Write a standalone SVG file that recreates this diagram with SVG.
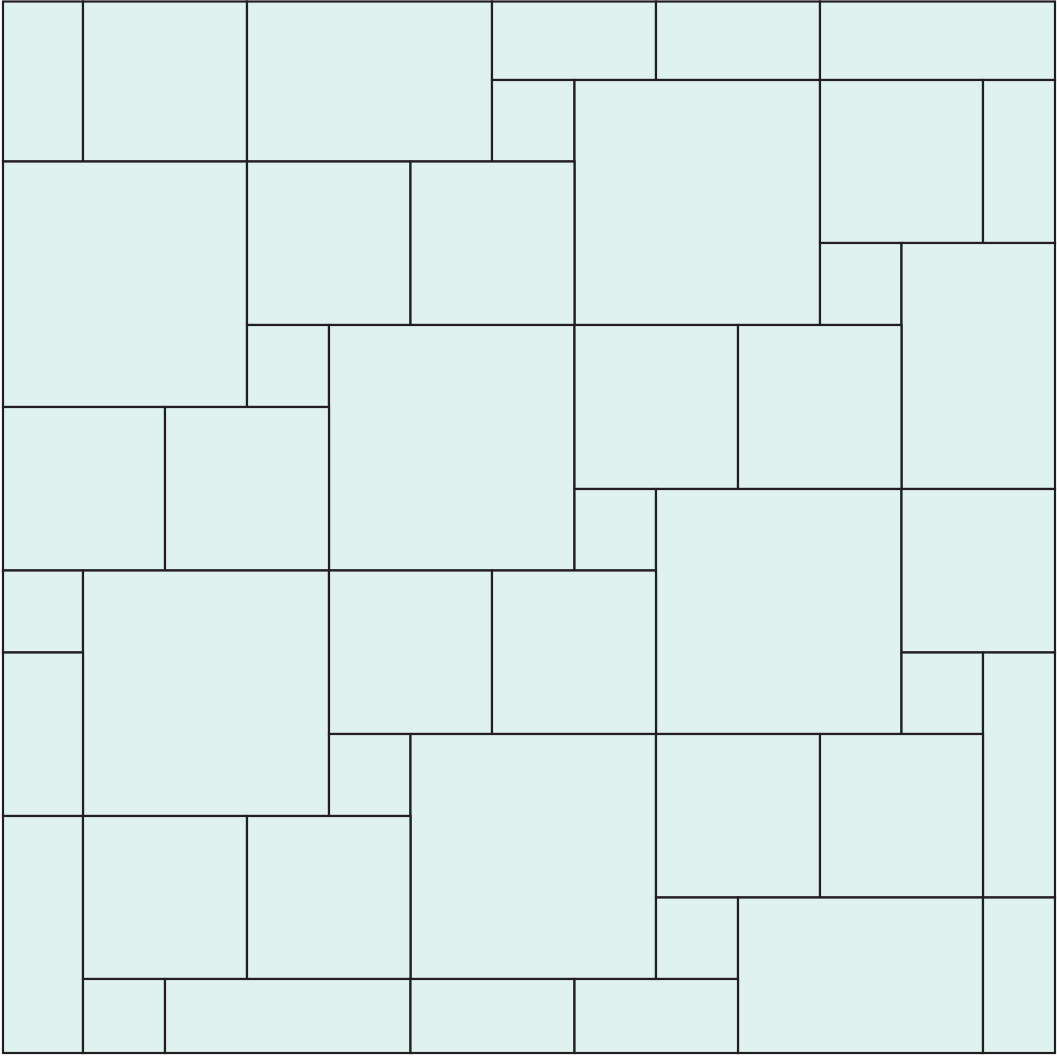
<svg xmlns="http://www.w3.org/2000/svg" width="1057" height="1057" viewBox="0 0 1057 1057">
<style>
.t{fill:#dff2ef;stroke:#231f20;stroke-width:2.2}
</style>
<rect width="1057" height="1057" fill="#ffffff"/>
<g id="tiles">
<rect class="t" x="3" y="1.5" width="80" height="160"/>
<rect class="t" x="83" y="1.5" width="164" height="160"/>
<rect class="t" x="247" y="1.5" width="245" height="160"/>
<rect class="t" x="492" y="1.5" width="164" height="78.5"/>
<rect class="t" x="656" y="1.5" width="164" height="78.5"/>
<rect class="t" x="820" y="1.5" width="235" height="78.5"/>
<rect class="t" x="492" y="80" width="82.5" height="81.5"/>
<rect class="t" x="574.5" y="80" width="245.5" height="245"/>
<rect class="t" x="820" y="80" width="163" height="163"/>
<rect class="t" x="983" y="80" width="72" height="163"/>
<rect class="t" x="820" y="243" width="81.5" height="82"/>
<rect class="t" x="901.5" y="243" width="153.5" height="246"/>
<rect class="t" x="3" y="161.5" width="244" height="245.5"/>
<rect class="t" x="247" y="161.5" width="163.5" height="163.5"/>
<rect class="t" x="410.5" y="161.5" width="164" height="163.5"/>
<rect class="t" x="247" y="325" width="82" height="82"/>
<rect class="t" x="329" y="325" width="245.5" height="245.5"/>
<rect class="t" x="574.5" y="325" width="163.5" height="164"/>
<rect class="t" x="738" y="325" width="163.5" height="164"/>
<rect class="t" x="3" y="407" width="162" height="163.5"/>
<rect class="t" x="165" y="407" width="164" height="163.5"/>
<rect class="t" x="574.5" y="489" width="81.5" height="81.5"/>
<rect class="t" x="656" y="489" width="245.5" height="245"/>
<rect class="t" x="901.5" y="489" width="153.5" height="163.5"/>
<rect class="t" x="3" y="570.5" width="80" height="82"/>
<rect class="t" x="83" y="570.5" width="246" height="245.5"/>
<rect class="t" x="329" y="570.5" width="163" height="163.5"/>
<rect class="t" x="492" y="570.5" width="164" height="163.5"/>
<rect class="t" x="901.5" y="652.5" width="81.5" height="81.5"/>
<rect class="t" x="983" y="652.5" width="72" height="245"/>
<rect class="t" x="3" y="652.5" width="80" height="163.5"/>
<rect class="t" x="329" y="734" width="81.5" height="82"/>
<rect class="t" x="410.5" y="734" width="245.5" height="245"/>
<rect class="t" x="656" y="734" width="164" height="163.5"/>
<rect class="t" x="820" y="734" width="163" height="163.5"/>
<rect class="t" x="3" y="816" width="80" height="237"/>
<rect class="t" x="83" y="816" width="164" height="163"/>
<rect class="t" x="247" y="816" width="163.5" height="163"/>
<rect class="t" x="656" y="897.5" width="82" height="81.5"/>
<rect class="t" x="738" y="897.5" width="245" height="155.5"/>
<rect class="t" x="983" y="897.5" width="72" height="155.5"/>
<rect class="t" x="83" y="979" width="82" height="74"/>
<rect class="t" x="165" y="979" width="245.5" height="74"/>
<rect class="t" x="410.5" y="979" width="164" height="74"/>
<rect class="t" x="574.5" y="979" width="163.5" height="74"/>
</g>
</svg>
